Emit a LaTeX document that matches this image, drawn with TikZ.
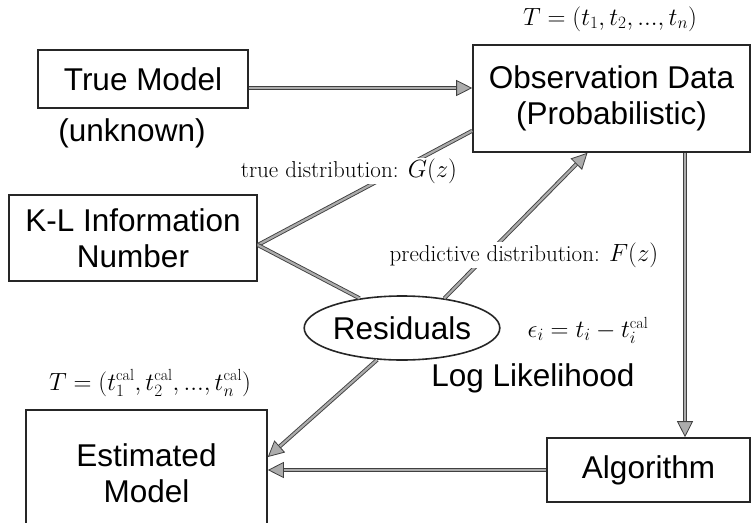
\documentclass[tikz,border=0pt]{standalone}
\usepackage{fontspec}
\newfontfamily\arial{Liberation Sans}
\usetikzlibrary{arrows.meta,shapes.geometric}
\begin{document}
\begin{tikzpicture}[x=1pt,y=-1pt,
  sans/.style={font=\arial\fontsize{31.5}{36}\selectfont},
  box/.style={draw=black!85,line width=1.6pt,inner sep=0pt,sans,align=center},
  conn/.style={draw=black!75,line width=0.9pt,double=gray!65,double distance=2.2pt},
  arr/.style={conn,-{Triangle[length=16pt,width=16pt,fill=gray!65,color=black!75,line width=0.8pt]}},
  lab/.style={font=\fontsize{23}{27}\selectfont,inner sep=1pt},
  wlab/.style={lab,fill=white}
 ]
\useasboundingbox (0,0) rectangle (751,522);
% boxes
\node[box,minimum width=210,minimum height=58] (tm) at (143,79) {True Model};
\node[sans,inner sep=0pt] (unk) at (132,133) {(unknown)};
\node[box,minimum width=248,minimum height=86] (kl) at (133,238) {K-L Information\\Number};
\node[box,minimum width=277,minimum height=107] (obs) at (611.5,98.5) {Observation Data\\(Probabilistic)};
\node[box,minimum width=203,minimum height=64] (alg) at (648.5,470) {Algorithm};
\node[box,minimum width=241,minimum height=126] (est) at (146.5,473) {Estimated\\Model};
\node[ellipse,draw=black!85,line width=1.6pt,minimum width=190,minimum height=64,inner sep=0pt,sans] (res) at (402,328) {Residuals};
% plain labels
\node[lab] (tlab) at (610,19) {$T=(t_1,t_2,...,t_n)$};
\node[lab] (tcal) at (150,383) {$T=(t_1^{\mathrm{cal}},t_2^{\mathrm{cal}},...,t_n^{\mathrm{cal}})$};
\node[lab] (eps) at (588,330) {$\epsilon_i=t_i-t_i^{\mathrm{cal}}$};
\node[sans,inner sep=0pt] (ll) at (533,378) {Log Likelihood};
% connectors
\coordinate (vx) at (685,0);
\draw[arr] ([yshift=-9pt]tm.east) -- ([yshift=-9pt]tm.east -| obs.west);
\draw[arr] (obs.south -| vx) -- (alg.north -| vx);
\draw[arr] (alg.west) -- (alg.west -| est.east);
\draw[arr] (res.232) -- ([yshift=16pt]est.east);
\draw[conn] ([yshift=-7pt]kl.east) -- ([yshift=22pt]obs.south west);
\draw[conn] ([yshift=-7pt]kl.east) -- (res.145);
\draw[arr] (res.35) -- ([xshift=-24pt]obs.south);
% labels over lines
\node[wlab] (gz) at (349,171) {true distribution: $G(z)$};
\node[wlab] (fz) at (524,255) {predictive distribution: $F(z)$};
\end{tikzpicture}
\end{document}
